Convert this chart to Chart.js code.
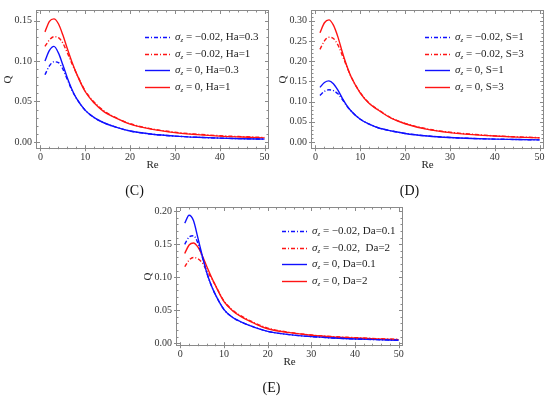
<!DOCTYPE html>
<html>
<head>
<meta charset="utf-8">
<script src="https://cdn.jsdelivr.net/npm/chart.js@4.4.1/dist/chart.umd.min.js"></script>
<style>
  body { margin: 0; background: #fff; }
  #wrap { position: relative; width: 550px; height: 397px; overflow: hidden; background: #fff; }
  canvas { position: absolute; }
</style>
</head>
<body>
<div id="wrap">
  <canvas id="chartC" width="275" height="200" style="left:0;top:0"></canvas>
  <canvas id="chartD" width="275" height="200" style="left:275px;top:0"></canvas>
  <canvas id="chartE" width="275" height="207" style="left:140px;top:190px"></canvas>
</div>
<script>
'use strict';

var re = [1, 2, 3, 4, 5, 6, 7, 8, 10, 12, 14, 17, 20, 25, 30, 35, 40, 45, 50];
var xTicks = [0, 10, 20, 30, 40, 50];

// panel (C)
var cLabels = ['σ_z = −0.02, Ha=0.3', 'σ_z = −0.02, Ha=1', 'σ_z = 0, Ha=0.3', 'σ_z = 0, Ha=1'];
var cBlueDash = [0.083, 0.094, 0.099, 0.098, 0.090, 0.077, 0.064, 0.054, 0.039, 0.030, 0.024, 0.018, 0.0135, 0.0095, 0.0072, 0.0057, 0.0047, 0.0040, 0.0035];
var cRedDash = [0.118, 0.126, 0.130, 0.129, 0.122, 0.110, 0.097, 0.085, 0.063, 0.049, 0.039, 0.0295, 0.0225, 0.016, 0.012, 0.0095, 0.0077, 0.0065, 0.0055];
var cBlue = [0.100, 0.113, 0.118, 0.110, 0.095, 0.079, 0.065, 0.054, 0.039, 0.030, 0.024, 0.018, 0.0135, 0.0095, 0.0072, 0.0057, 0.0047, 0.0040, 0.0035];
var cRed = [0.136, 0.149, 0.152, 0.146, 0.132, 0.115, 0.099, 0.085, 0.062, 0.048, 0.038, 0.029, 0.022, 0.0155, 0.0115, 0.0090, 0.0072, 0.0060, 0.0050];
var cYTicks = [0, 0.05, 0.10, 0.15];

// panel (D)
var dLabels = ['σ_z = −0.02, S=1', 'σ_z = −0.02, S=3', 'σ_z = 0, S=1', 'σ_z = 0, S=3'];
var dBlueDash = [0.115, 0.125, 0.129, 0.127, 0.119, 0.105, 0.089, 0.076, 0.056, 0.044, 0.035, 0.027, 0.021, 0.0148, 0.011, 0.0086, 0.0070, 0.0060, 0.0050];
var dRedDash = [0.229, 0.250, 0.259, 0.256, 0.240, 0.214, 0.186, 0.160, 0.122, 0.096, 0.080, 0.059, 0.046, 0.032, 0.024, 0.019, 0.015, 0.0125, 0.0105];
var dBlue = [0.135, 0.147, 0.151, 0.144, 0.128, 0.108, 0.090, 0.076, 0.056, 0.044, 0.035, 0.027, 0.021, 0.0148, 0.011, 0.0086, 0.0070, 0.0060, 0.0050];
var dRed = [0.270, 0.295, 0.302, 0.289, 0.260, 0.222, 0.188, 0.160, 0.121, 0.095, 0.079, 0.058, 0.045, 0.031, 0.023, 0.018, 0.0145, 0.012, 0.010];
var dYTicks = [0, 0.05, 0.10, 0.15, 0.20, 0.25, 0.30];

// panel (E)
var eLabels = ['σ_z = −0.02, Da=0.1', 'σ_z = −0.02,  Da=2', 'σ_z = 0, Da=0.1', 'σ_z = 0, Da=2'];
var eBlueDash = [0.150, 0.161, 0.163, 0.152, 0.131, 0.108, 0.089, 0.074, 0.051, 0.039, 0.032, 0.024, 0.018, 0.013, 0.010, 0.0080, 0.0065, 0.0055, 0.0045];
var eRedDash = [0.116, 0.126, 0.130, 0.128, 0.122, 0.111, 0.100, 0.088, 0.064, 0.050, 0.041, 0.031, 0.023, 0.0165, 0.0125, 0.010, 0.0085, 0.0070, 0.0060];
var eBlue = [0.182, 0.194, 0.186, 0.160, 0.133, 0.108, 0.089, 0.074, 0.051, 0.039, 0.032, 0.024, 0.018, 0.013, 0.010, 0.0080, 0.0065, 0.0055, 0.0045];
var eRed = [0.136, 0.149, 0.152, 0.146, 0.133, 0.117, 0.102, 0.088, 0.063, 0.049, 0.040, 0.030, 0.022, 0.016, 0.012, 0.0095, 0.0080, 0.0065, 0.0055];
var eYTicks = [0, 0.05, 0.10, 0.15, 0.20];

var BLUE = '#1010ff';
var RED = '#ff1414';
var SERIF = '"Liberation Serif", "DejaVu Serif", serif';

Chart.defaults.font.family = SERIF;
Chart.defaults.color = '#333';

function points(ys) {
  return re.map(function(x, i) { return {x: x, y: ys[i]}; });
}

// Mathematica style frame with inward ticks on all four sides
var frameTicks = {
  id: 'frameTicks',
  afterDatasetsDraw: function(chart, args, opts) {
    var ctx = chart.ctx;
    var a = chart.chartArea;
    var xs = chart.scales.x;
    var ys = chart.scales.y;
    var v, p, major;
    ctx.save();
    ctx.strokeStyle = '#8a8a8a';
    ctx.lineWidth = 1;
    ctx.beginPath();
    for (v = 0; v <= xs.max + 1e-9; v += opts.xMinor) {
      p = Math.round(xs.getPixelForValue(v)) + 0.5;
      major = xTicks.indexOf(Math.round(v)) >= 0;
      var lx = major ? 4 : 2.5;
      ctx.moveTo(p, a.bottom + (major ? 2 : 0)); ctx.lineTo(p, a.bottom - lx);
      ctx.moveTo(p, a.top); ctx.lineTo(p, a.top + lx);
    }
    for (var k = 0; k * opts.yMinor <= ys.max + 1e-9; k++) {
      v = k * opts.yMinor;
      p = Math.round(ys.getPixelForValue(v)) + 0.5;
      major = k % 5 === 0;
      var ly = major ? 4 : 2.5;
      ctx.moveTo(a.left - (major ? 2 : 0), p); ctx.lineTo(a.left + ly, p);
      ctx.moveTo(a.right, p); ctx.lineTo(a.right - ly, p);
    }
    ctx.stroke();
    ctx.strokeRect(Math.round(a.left) + 0.5, Math.round(a.top) + 0.5,
      Math.round(a.right - a.left) - 1, Math.round(a.bottom - a.top) - 1);
    ctx.restore();
  }
};

// legend drawn inside the plot, sigma with a subscript
var sigmaLegend = {
  id: 'sigmaLegend',
  afterDraw: function(chart, args, opts) {
    var ctx = chart.ctx;
    var a = chart.chartArea;
    chart.data.datasets.forEach(function(ds, i) {
      var x = a.left + opts.left;
      var y = Math.round(a.top + opts.top + i * opts.gap) + 0.5;
      ctx.save();
      ctx.strokeStyle = ds.borderColor;
      ctx.lineWidth = ds.borderWidth;
      ctx.setLineDash(ds.borderDash || []);
      ctx.beginPath();
      ctx.moveTo(x, y);
      ctx.lineTo(x + 25, y);
      ctx.stroke();
      ctx.setLineDash([]);
      var tx = x + 30;
      ctx.fillStyle = '#222';
      ctx.textBaseline = 'middle';
      ctx.font = 'italic 11px ' + SERIF;
      ctx.fillText('σ', tx, y);
      tx += ctx.measureText('σ').width;
      ctx.font = 'italic 7px ' + SERIF;
      ctx.fillText('z', tx, y + 3);
      tx += ctx.measureText('z').width;
      ctx.font = '11px ' + SERIF;
      ctx.fillText(ds.label.replace('σ_z', ''), tx, y);
      ctx.restore();
    });
  }
};

function makePanel(id, cfg) {
  var styles = [
    {color: BLUE, dash: [4, 2, 1, 2]},
    {color: RED, dash: [4, 2, 1, 2]},
    {color: BLUE, dash: []},
    {color: RED, dash: []}
  ];
  var datasets = cfg.series.map(function(ys, i) {
    return {
      label: cfg.labels[i],
      data: points(ys),
      borderColor: styles[i].color,
      borderDash: styles[i].dash,
      borderWidth: 1.4,
      pointRadius: 0,
      fill: false,
      cubicInterpolationMode: 'monotone'
    };
  });
  var ctx = document.getElementById(id).getContext('2d');
  return new Chart(ctx, {
    type: 'line',
    data: {datasets: datasets},
    plugins: [frameTicks, sigmaLegend],
    options: {
      responsive: false,
      animation: false,
      devicePixelRatio: 1,
      layout: {padding: cfg.padding},
      plugins: {
        legend: {display: false},
        tooltip: {enabled: false},
        title: {
          display: true,
          text: cfg.title,
          position: 'bottom',
          color: '#111',
          font: {size: 14, weight: 'normal'},
          padding: {top: 0, bottom: cfg.titlePad}
        },
        frameTicks: {xMinor: 2, yMinor: 0.01},
        sigmaLegend: cfg.legend
      },
      scales: {
        x: {
          type: 'linear',
          min: -1,
          max: 51,
          grid: {display: false, drawTicks: false},
          border: {display: false},
          afterBuildTicks: function(axis) {
            axis.ticks = xTicks.map(function(v) { return {value: v}; });
          },
          afterFit: function(axis) { axis.height = cfg.xHeight; },
          ticks: {padding: 2, font: {size: 10}, maxRotation: 0},
          title: {display: true, text: 'Re', color: '#222', font: {size: 11}, padding: {top: 0, bottom: 11}}
        },
        y: {
          type: 'linear',
          min: cfg.yMin,
          max: cfg.yMax,
          grid: {display: false, drawTicks: false},
          border: {display: false},
          afterBuildTicks: function(axis) {
            axis.ticks = cfg.yTicks.map(function(v) { return {value: v}; });
          },
          afterFit: function(axis) { axis.width = 36; },
          ticks: {
            padding: 4,
            font: {size: 10},
            callback: function(v) { return v.toFixed(2); }
          },
          title: {display: true, text: 'Q', color: '#222', font: {size: 11}, padding: {top: 2, bottom: 0}}
        }
      }
    }
  });
}

makePanel('chartC', {
  labels: cLabels,
  series: [cBlueDash, cRedDash, cBlue, cRed],
  yTicks: cYTicks, yMin: -0.009, yMax: 0.163,
  padding: {top: 2, right: 6, left: 0, bottom: 0},
  xHeight: 34, title: '(C)', titlePad: 0,
  legend: {left: 109, top: 27, gap: 16.5}
});

makePanel('chartD', {
  labels: dLabels,
  series: [dBlueDash, dRedDash, dBlue, dRed],
  yTicks: dYTicks, yMin: -0.018, yMax: 0.3265,
  padding: {top: 2, right: 6, left: 0, bottom: 0},
  xHeight: 34, title: '(D)', titlePad: 0,
  legend: {left: 114, top: 27, gap: 16.5}
});

makePanel('chartE', {
  labels: eLabels,
  series: [eBlueDash, eRedDash, eBlue, eRed],
  yTicks: eYTicks, yMin: -0.0045, yMax: 0.2065,
  padding: {top: 17, right: 12, left: 0, bottom: 0},
  xHeight: 34, title: '(E)', titlePad: 0,
  legend: {left: 106, top: 24, gap: 16.5}
});
</script>
</body>
</html>
